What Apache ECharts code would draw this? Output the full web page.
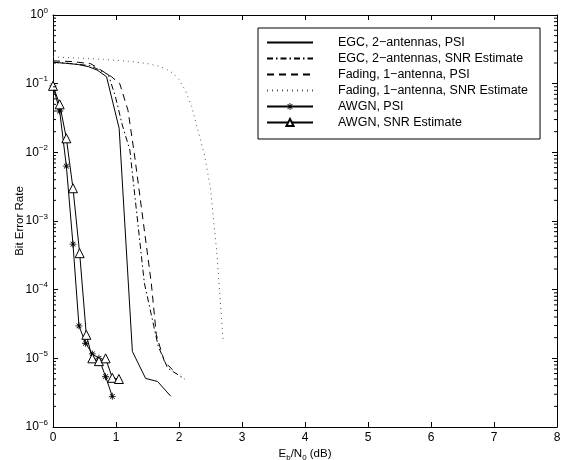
<!DOCTYPE html>
<html>
<head>
<meta charset="utf-8">
<script src="https://cdn.jsdelivr.net/npm/echarts@6/dist/echarts.min.js"></script>
<style>
html,body{margin:0;padding:0;background:#fff;}
#chart{width:581px;height:460px;}
</style>
</head>
<body>
<div id="chart"></div>
<script>
// ---- data ----
const seriesNames = [
  'EGC, 2\u2212antennas, PSI',
  'EGC, 2\u2212antennas, SNR Estimate',
  'Fading, 1\u2212antenna, PSI',
  'Fading, 1\u2212antenna, SNR Estimate',
  'AWGN, PSI',
  'AWGN, SNR Estimate'
];
const egcPsiX = [0, 0.2, 0.4, 0.56, 0.7, 0.85, 1.05, 1.26, 1.47, 1.66, 1.87];
const egcPsiY = [0.205, 0.198, 0.19, 0.177, 0.158, 0.126, 0.0224, 1.26e-5, 5.1e-6, 4.6e-6, 2.8e-6];

const egcSnrX = [0, 0.3, 0.6, 0.88, 0.99, 1.1, 1.22, 1.45, 1.67, 1.82, 2.09];
const egcSnrY = [0.205, 0.196, 0.182, 0.135, 0.065, 0.025, 0.0108, 1.25e-4, 1.5e-5, 7.2e-6, 5.0e-6];

const fadPsiX = [0, 0.3, 0.6, 0.93, 1.06, 1.19, 1.29, 1.56, 1.64, 1.77, 1.96];
const fadPsiY = [0.215, 0.21, 0.195, 0.126, 0.10, 0.041, 0.0097, 1.25e-4, 2.2e-5, 8.9e-6, 6.0e-6];

const fadSnrX = [0, 0.4, 0.8, 1.2, 1.5, 1.7, 1.8, 1.9, 2.0, 2.1, 2.2, 2.3, 2.4, 2.5, 2.6, 2.7];
const fadSnrY = [0.245, 0.236, 0.226, 0.212, 0.196, 0.178, 0.162, 0.143, 0.115, 0.08, 0.047, 0.021, 0.0095, 0.003, 3.5e-4, 1.8e-5];

const awgnPsiX = [0, 0.106, 0.212, 0.317, 0.412, 0.518, 0.624, 0.729, 0.835, 0.941];
const awgnPsiY = [0.093, 0.040, 0.0063, 4.6e-4, 2.97e-5, 1.66e-5, 1.16e-5, 1.0e-5, 5.4e-6, 2.8e-6];

const awgnSnrX = [0, 0.106, 0.212, 0.317, 0.423, 0.529, 0.624, 0.729, 0.835, 0.941, 1.046];
const awgnSnrY = [0.093, 0.05, 0.016, 0.003, 3.4e-4, 2.2e-5, 1.0e-5, 9.1e-6, 1.0e-5, 5.2e-6, 5.0e-6];

const xTicks = [0, 1, 2, 3, 4, 5, 6, 7, 8];
const yDecades = [-6, -5, -4, -3, -2, -1, 0];
const xTitle = ['E', 'b', '/N', '0', ' (dB)'];
const yTitle = 'Bit Error Rate';

// ---- helpers ----
const X_MIN = xTicks[0], X_MAX = xTicks[xTicks.length - 1];
const Y_MIN = Math.pow(10, yDecades[0]), Y_MAX = Math.pow(10, yDecades[yDecades.length - 1]);
function pairs(xs, ys) { return xs.map((x, i) => [x, ys[i]]); }
const minorVals = [];
for (let i = 0; i < yDecades.length - 1; i++) {
  for (let k = 2; k <= 9; k++) minorVals.push([X_MIN, k * Math.pow(10, yDecades[i])]);
}
const FONT = 'Liberation Sans, Arial, Helvetica, sans-serif';
const asterisk = 'path://M0,4.4H10V5.6H0Z M4.4,0H5.6V10H4.4Z M1.2,2L2,1.2L8.8,8L8,8.8Z M8,1.2L8.8,2L2,8.8L1.2,8Z';

const chart = echarts.init(document.getElementById('chart'), null, {renderer: 'canvas'});

const axisCommon = {
  axisLine: {show: true, onZero: false, lineStyle: {color: '#000', width: 1}},
  axisTick: {show: true, inside: true, length: 5, lineStyle: {color: '#000', width: 1}},
  splitLine: {show: false}
};

// legend entries: plain lines get an invisible symbol
const legendData = seriesNames.map((n, i) => i < 4 ? {name: n, itemStyle: {opacity: 0}} : {name: n});

const option = {
  animation: false,
  backgroundColor: '#ffffff',
  textStyle: {fontFamily: FONT},
  grid: {left: 53, right: 24, top: 15, bottom: 33, containLabel: false, outerBoundsMode: 'none'},
  legend: {
    data: legendData,
    orient: 'vertical',
    left: 258,
    top: 28,
    padding: [8, 12, 10, 8],
    itemWidth: 46,
    itemHeight: 9,
    itemGap: 3,
    borderColor: '#000',
    borderWidth: 1,
    backgroundColor: '#fff',
    textStyle: {fontSize: 12.5, fontFamily: FONT, color: '#000', padding: [0, 0, 0, 20]}
  },
  xAxis: [
    Object.assign({
      type: 'value', min: X_MIN, max: X_MAX, interval: 1, position: 'bottom',
      axisLabel: {color: '#000', fontSize: 12, fontFamily: FONT, margin: 5},
      name: '{n|' + xTitle[0] + '}{s|' + xTitle[1] + '}{n|' + xTitle[2] + '}{s|' + xTitle[3] + '}{n|' + xTitle[4] + '}',
      nameLocation: 'middle',
      nameGap: 18,
      nameMoveOverlap: false,
      nameTextStyle: {
        color: '#000', fontFamily: FONT,
        rich: {
          n: {fontSize: 11.5, color: '#000', fontFamily: FONT},
          s: {fontSize: 8, color: '#000', fontFamily: FONT, padding: [9, 0, 0, 0]}
        }
      }
    }, axisCommon),
    Object.assign({
      type: 'value', min: X_MIN, max: X_MAX, interval: 1, position: 'top',
      axisLabel: {show: false}
    }, axisCommon)
  ],
  yAxis: [
    Object.assign({
      type: 'log', logBase: 10, min: Y_MIN, max: Y_MAX, splitNumber: 6, position: 'left',
      axisLabel: {
        color: '#000', fontSize: 12, fontFamily: FONT, margin: 5,
        formatter: function (v) {
          const e = Math.round(Math.log10(v));
          return '{b|10}{s|' + (e < 0 ? '\u2212' + (-e) : e) + '}';
        },
        rich: {
          b: {fontSize: 12, color: '#000', fontFamily: FONT},
          s: {fontSize: 8, color: '#000', fontFamily: FONT, padding: [0, 0, 9, 0]}
        }
      },
      name: yTitle,
      nameLocation: 'middle',
      nameGap: 27,
      nameMoveOverlap: false,
      nameTextStyle: {color: '#000', fontSize: 11.5, fontFamily: FONT}
    }, axisCommon),
    Object.assign({
      type: 'log', logBase: 10, min: Y_MIN, max: Y_MAX, splitNumber: 6, position: 'right',
      axisLabel: {show: false}
    }, axisCommon)
  ],
  series: [
    {
      name: seriesNames[0], type: 'line', data: pairs(egcPsiX, egcPsiY),
      showSymbol: false, symbol: 'none', color: '#000',
      lineStyle: {color: '#000', width: 1, type: 'solid'}
    },
    {
      name: seriesNames[1], type: 'line', data: pairs(egcSnrX, egcSnrY),
      showSymbol: false, symbol: 'none', color: '#000',
      lineStyle: {color: '#000', width: 1, type: [6, 3, 1.5, 3]}
    },
    {
      name: seriesNames[2], type: 'line', data: pairs(fadPsiX, fadPsiY),
      showSymbol: false, symbol: 'none', color: '#000',
      lineStyle: {color: '#000', width: 1, type: [7, 5]}
    },
    {
      name: seriesNames[3], type: 'line', data: pairs(fadSnrX, fadSnrY),
      showSymbol: false, symbol: 'none', color: '#555',
      lineStyle: {color: '#555', width: 1, type: [1, 4]}
    },
    {
      name: seriesNames[4], type: 'line', data: pairs(awgnPsiX, awgnPsiY),
      symbol: asterisk, symbolSize: 7, showSymbol: true, color: '#000',
      itemStyle: {color: '#000'},
      lineStyle: {color: '#000', width: 1}
    },
    {
      name: seriesNames[5], type: 'line', data: pairs(awgnSnrX, awgnSnrY),
      symbol: 'triangle', symbolSize: 9, showSymbol: true, color: '#000',
      itemStyle: {color: '#fff', borderColor: '#000', borderWidth: 1},
      lineStyle: {color: '#000', width: 1}
    },
    {
      name: 'minorTicks', type: 'custom', silent: true, z: 10,
      data: minorVals,
      renderItem: function (params, api) {
        const v = api.value(1);
        const a = api.coord([X_MIN, v]);
        const b = api.coord([X_MAX, v]);
        return {
          type: 'group',
          children: [
            {type: 'line', shape: {x1: a[0], y1: a[1], x2: a[0] + 3, y2: a[1]}, style: {stroke: '#000', lineWidth: 1}},
            {type: 'line', shape: {x1: b[0] - 3, y1: b[1], x2: b[0], y2: b[1]}, style: {stroke: '#000', lineWidth: 1}}
          ]
        };
      }
    }
  ]
};
chart.setOption(option);
</script>
</body>
</html>
